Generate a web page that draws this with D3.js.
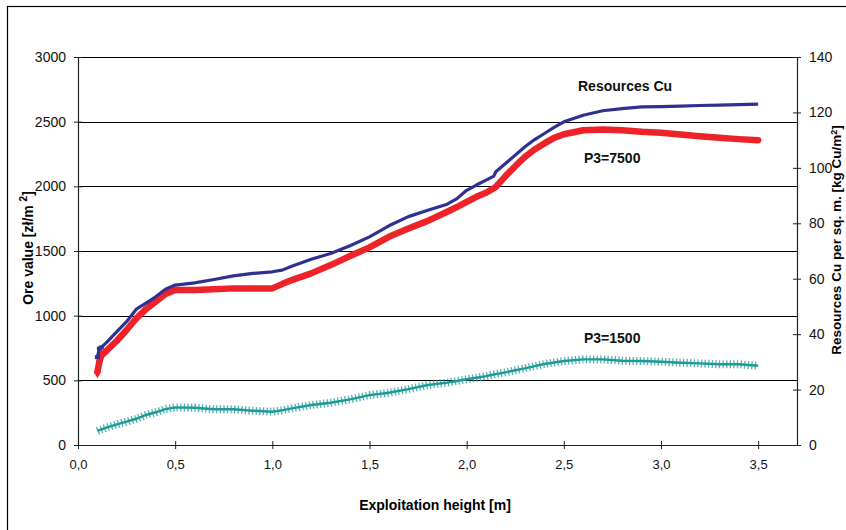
<!DOCTYPE html>
<html>
<head>
<meta charset="utf-8">
<script src="https://cdn.jsdelivr.net/npm/d3@7"></script>
<style>
  body { margin: 0; background: #fff; }
  svg { font-family: "Liberation Sans", Arial, sans-serif; display: block; }
</style>
</head>
<body>
<div id="chart"></div>
<script>
// exploitation height [m]
const heights = [0.1, 0.11, 0.12, 0.15, 0.2, 0.25, 0.3, 0.35, 0.4, 0.45, 0.5, 0.6, 0.7, 0.8, 0.9, 1.0, 1.05, 1.1, 1.2, 1.3, 1.4, 1.5, 1.6, 1.7, 1.8, 1.9, 1.95, 2.0, 2.05, 2.1, 2.14, 2.15, 2.2, 2.25, 2.3, 2.35, 2.4, 2.45, 2.5, 2.6, 2.7, 2.8, 2.9, 3.0, 3.1, 3.2, 3.3, 3.4, 3.5]

// Resources Cu, kg Cu per sq. m (right axis)
const resourcesCu = [31.7, 34.8, 35.2, 37.2, 40.9, 44.5, 49.0, 51.2, 53.5, 56.2, 57.7, 58.5, 59.7, 61.0, 61.9, 62.5, 63.1, 64.5, 67.0, 69.1, 71.9, 75.1, 79.1, 82.4, 84.7, 86.9, 88.9, 91.9, 93.8, 95.6, 97.0, 98.6, 101.6, 104.6, 107.6, 110.2, 112.4, 114.6, 116.6, 119.0, 120.6, 121.4, 122.0, 122.1, 122.3, 122.5, 122.6, 122.8, 123.0]

// ore value for P3=7500 [zł/m2] (left axis)
const p3_7500 = [565, 645, 690, 734, 806, 889, 979, 1051, 1108, 1167, 1198, 1198, 1205, 1211, 1211, 1211, 1244, 1275, 1327, 1391, 1461, 1528, 1610, 1674, 1733, 1803, 1840, 1880, 1919, 1950, 1985, 1996, 2079, 2156, 2228, 2285, 2332, 2375, 2403, 2434, 2440, 2434, 2422, 2414, 2401, 2388, 2375, 2365, 2357]

// ore value for P3=1500 [zł/m2] (left axis)
const p3_1500 = [108, 115, 120, 137, 160, 180, 203, 232, 253, 278, 291, 288, 276, 276, 265, 257, 268, 283, 309, 327, 353, 386, 404, 432, 464, 482, 495, 508, 520, 533, 545, 548, 562, 578, 593, 610, 626, 638, 649, 662, 662, 651, 649, 644, 636, 631, 624, 624, 613]

const xTicks = [0, 0.5, 1.0, 1.5, 2.0, 2.5, 3.0, 3.5]
const leftTicks = [0, 500, 1000, 1500, 2000, 2500, 3000]
const rightTicks = [0, 20, 40, 60, 80, 100, 120, 140]

const width = 846, height = 530
const plot = {left: 78, right: 797, top: 57, bottom: 445}

const svg = d3.select('#chart').append('svg')
    .attr('width', width)
    .attr('height', height)

// outer frame
svg.append('rect')
    .attr('x', 7.5).attr('y', 6.5)
    .attr('width', 900).attr('height', 600)
    .attr('fill', 'none')
    .attr('stroke', '#000')
    .attr('stroke-width', 1.2)

const xScale = d3.scaleLinear().domain([0, 3.7]).range([plot.left, plot.right])
const yLeft = d3.scaleLinear().domain([0, 3000]).range([plot.bottom, plot.top])
const yRight = d3.scaleLinear().domain([0, 140]).range([plot.bottom, plot.top])

// horizontal gridlines
svg.append('g').selectAll('line')
    .data(leftTicks.filter(d => d > 0))
    .enter().append('line')
    .attr('x1', plot.left).attr('x2', plot.right)
    .attr('y1', d => Math.round(yLeft(d)) + 0.5)
    .attr('y2', d => Math.round(yLeft(d)) + 0.5)
    .attr('stroke', '#000')
    .attr('stroke-width', 1)

// axes
function styleAxis(g) {
    g.select('.domain').attr('stroke', '#222').attr('stroke-width', 1.2)
    g.selectAll('.tick line').attr('stroke', '#222')
    g.selectAll('.tick text').attr('fill', '#111').style('font-size', '14px')
}

const fmtComma = d => d3.format('.1f')(d).replace('.', ',')

svg.append('g')
    .attr('transform', `translate(${plot.left},0)`)
    .call(d3.axisLeft(yLeft).tickValues(leftTicks).tickFormat(d3.format('d')).tickSize(4).tickSizeOuter(0).tickPadding(8))
    .call(styleAxis)
    .call(g => g.selectAll('.tick line').attr('x2', 4).attr('x1', -4))

svg.append('g')
    .attr('transform', `translate(${plot.right},0)`)
    .call(d3.axisRight(yRight).tickValues(rightTicks).tickSize(4).tickSizeOuter(0).tickPadding(8))
    .call(styleAxis)
    .call(g => g.selectAll('.tick line').attr('x1', -4).attr('x2', 4))

svg.append('g')
    .attr('transform', `translate(0,${plot.bottom})`)
    .call(d3.axisBottom(xScale).tickValues(xTicks).tickFormat(fmtComma).tickSize(4).tickSizeOuter(0).tickPadding(11))
    .call(styleAxis)
    .call(g => g.selectAll('.tick line').attr('y1', -4).attr('y2', 4))
    .call(g => g.selectAll('.tick text').style('font-size', '13px'))

// series
const rows = heights.map((h, i) => ({h: h, cu: resourcesCu[i], a: p3_7500[i], b: p3_1500[i]}))

const lineCu = d3.line().x(d => xScale(d.h)).y(d => yRight(d.cu))
const lineA = d3.line().x(d => xScale(d.h)).y(d => yLeft(d.a))
const lineB = d3.line().x(d => xScale(d.h)).y(d => yLeft(d.b))

const teal = '#1b9a96'
const red = '#ee2329'
const blue = '#2e3192'

// P3=1500 : thin line with dense cross ticks
svg.append('path').datum(rows)
    .attr('d', lineB)
    .attr('fill', 'none')
    .attr('stroke', teal)
    .attr('stroke-opacity', 0.75)
    .attr('stroke-width', 8)
    .attr('stroke-dasharray', '1.3 2.3')
svg.append('path').datum(rows)
    .attr('d', lineB)
    .attr('fill', 'none')
    .attr('stroke', teal)
    .attr('stroke-width', 2.4)

// P3=7500 : thick red band, diamonds visible only where points spread out
svg.append('path').datum(rows)
    .attr('d', lineA)
    .attr('fill', 'none')
    .attr('stroke', red)
    .attr('stroke-width', 6.5)
    .attr('stroke-linejoin', 'round')
    .attr('stroke-linecap', 'round')
svg.append('g').selectAll('path')
    .data(rows.slice(0, 3))
    .enter().append('path')
    .attr('d', d3.symbol().type(d3.symbolDiamond).size(45))
    .attr('transform', d => `translate(${xScale(d.h)},${yLeft(d.a)})`)
    .attr('fill', red)

// Resources Cu : blue line
svg.append('path').datum(rows)
    .attr('d', lineCu)
    .attr('fill', 'none')
    .attr('stroke', blue)
    .attr('stroke-width', 3.2)
    .attr('stroke-linejoin', 'round')
svg.append('g').selectAll('rect')
    .data(rows.slice(0, 3))
    .enter().append('rect')
    .attr('x', d => xScale(d.h) - 2.5)
    .attr('y', d => yRight(d.cu) - 2)
    .attr('width', 5).attr('height', 4)
    .attr('fill', blue)

// series labels
const labels = [
    {text: 'Resources Cu', x: 578, y: 91},
    {text: 'P3=7500', x: 584, y: 163},
    {text: 'P3=1500', x: 584, y: 343}
]
svg.append('g').selectAll('text')
    .data(labels)
    .enter().append('text')
    .attr('x', d => d.x).attr('y', d => d.y)
    .style('font-size', '14px').style('font-weight', 'bold')
    .attr('fill', '#111')
    .text(d => d.text)

// axis titles
svg.append('text')
    .attr('x', 435).attr('y', 510)
    .attr('text-anchor', 'middle')
    .style('font-size', '14px').style('font-weight', 'bold')
    .text('Exploitation height [m]')

const leftTitle = svg.append('text')
    .attr('transform', 'translate(33,248) rotate(-90)')
    .attr('text-anchor', 'middle')
    .style('font-size', '14px').style('font-weight', 'bold')
leftTitle.append('tspan').text('Ore value [zł/m ')
leftTitle.append('tspan').attr('dy', -6).style('font-size', '10px').text('2')
leftTitle.append('tspan').attr('dy', 6).text(']')

const rightTitle = svg.append('text')
    .attr('transform', 'translate(841,240) rotate(-90)')
    .attr('text-anchor', 'middle')
    .style('font-size', '13.5px').style('font-weight', 'bold')
rightTitle.append('tspan').text('Resources Cu per sq. m. [kg Cu/m')
rightTitle.append('tspan').attr('dy', -4).style('font-size', '9px').text('2')
rightTitle.append('tspan').attr('dy', 4).text(']')
</script>
</body>
</html>
